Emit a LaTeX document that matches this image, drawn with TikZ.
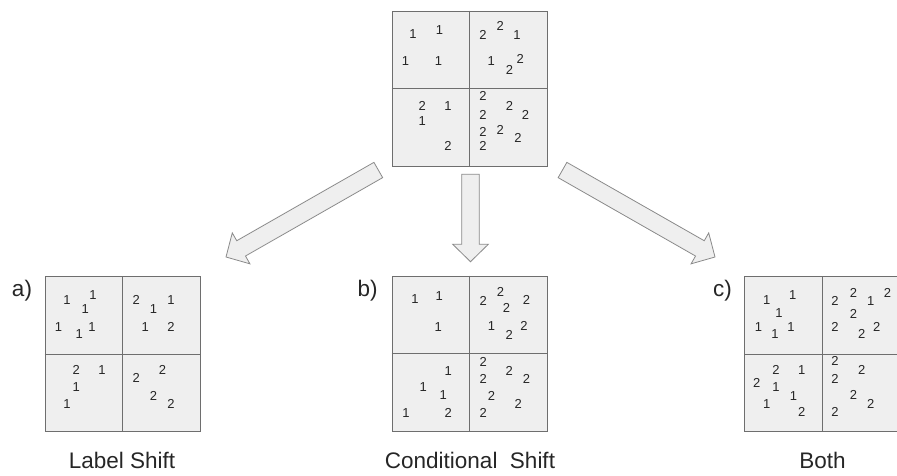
\documentclass[tikz,border=0pt]{standalone}
\usepackage{fontspec}
\setmainfont{Liberation Sans}
\usetikzlibrary{calc}
\definecolor{boxgray}{HTML}{EFEFEF}
\definecolor{linegray}{HTML}{6E6E6E}
\definecolor{arrowgray}{HTML}{8A8A8A}
\definecolor{textgray}{HTML}{262626}

\newcommand\fatarrow[2]{%
  \coordinate (#2-base) at ($(#2)!17.4pt!(#1)$);
  \draw[blockarrow] ($(#1)!8.8pt!90:(#2)$) -- ($(#2-base)!8.8pt!90:(#2)$)
    -- ($(#2-base)!17.8pt!90:(#2)$) -- (#2) -- ($(#2-base)!17.8pt!-90:(#2)$)
    -- ($(#2-base)!8.8pt!-90:(#2)$) -- ($(#1)!8.8pt!-90:(#2)$) -- cycle;}

\begin{document}
\begin{tikzpicture}[x=1pt,y=-1pt]

%
% Styles
%
\tikzstyle{quadbox}    = [rectangle,draw=linegray,fill=boxgray,line width=0.8pt,minimum size=155pt,inner sep=0pt]
\tikzstyle{divider}    = [draw=linegray,line width=0.8pt]
\tikzstyle{digit}      = [inner sep=0pt,text=textgray,font=\fontsize{13}{15}\selectfont]
\tikzstyle{caption}    = [inner sep=0pt,text=textgray,font=\fontsize{22.5}{27}\selectfont]
\tikzstyle{blockarrow} = [draw=arrowgray,fill=boxgray,line width=0.8pt,line join=miter]

\useasboundingbox (0,0) rectangle (897,476);

\node[quadbox] (top)  at (469.5,88.5) {};
\node[quadbox] (boxa) at (122.5,354)  {};
\node[quadbox] (boxb) at (469.5,353.5) {};
\node[quadbox] (boxc) at (822,354)    {};

\foreach \b in {top,boxa,boxb,boxc} {
  \draw[divider] (\b.north) -- (\b.south);
  \draw[divider] (\b.west) -- (\b.east);
}

% top
\foreach \x/\y/\d [count=\i] in {21.3/23.3/1, 48/19.7/1, 14/50.7/1, 47/50.7/1,
    91.3/24/2, 108.7/15.7/2, 125.3/24/1, 99.7/50/1, 118/59/2, 128.7/48/2,
    30.7/95/2, 56.3/95/1, 30.7/110.7/1, 56.3/135.7/2,
    91.3/85/2, 91.3/104/2, 118/95/2, 134/104/2, 91.3/121.7/2, 108.7/119.7/2, 126.3/127.3/2, 91.3/135.7/2}
  \node[digit] (top-d\i) at ($(top.north west)+(\x,\y)$) {\d};

% a)
\foreach \x/\y/\d [count=\i] in {22.4/24.3/1, 48.4/19/1, 40.7/33.3/1, 14/50.6/1, 34.7/57.6/1, 47.4/50.6/1,
    91.7/24.3/2, 109/32.6/1, 126.4/24.3/1, 100.7/50.6/1, 126.4/50.6/2,
    31.7/94.3/2, 57.4/94.3/1, 31.7/111/1, 22.4/128.3/1,
    91.7/102.3/2, 118/94.3/2, 109/120/2, 126.4/128.3/2}
  \node[digit] (boxa-d\i) at ($(boxa.north west)+(\x,\y)$) {\d};

% b)
\foreach \x/\y/\d [count=\i] in {23.3/23.6/1, 47.6/20/1, 46.6/51.6/1,
    91.6/25.3/2, 109/16.6/2, 115/32/2, 135/24.3/2, 100/50.3/1, 117.6/59.3/2, 132.3/50.3/2,
    56.6/95.3/1, 31.6/111.6/1, 51.6/119.3/1, 14.3/137/1, 56.6/137/2,
    91.6/86/2, 91.6/103.6/2, 117.6/95.3/2, 135/103.6/2, 100/120.3/2, 126.6/128.6/2, 91.6/137/2}
  \node[digit] (boxb-d\i) at ($(boxb.north west)+(\x,\y)$) {\d};

% c)
\foreach \x/\y/\d [count=\i] in {22.7/24.3/1, 48.7/19/1, 35/36.6/1, 14.3/50.6/1, 31/58.3/1, 47/50.6/1,
    91/25/2, 109.3/16.6/2, 126.7/25/1, 143.3/16.6/2, 109.3/37.6/2, 91/50.6/2, 117.7/58.3/2, 132.7/50.6/2,
    32/94.3/2, 57.7/94.3/1, 12.7/106.6/2, 32/111/1, 49.3/120/1, 22.7/128.3/1, 57.7/136/2,
    91/85/2, 91/102.6/2, 117.7/94.3/2, 109.3/119.3/2, 126.7/128.3/2, 91/136/2}
  \node[digit] (boxc-d\i) at ($(boxc.north west)+(\x,\y)$) {\d};

\node[caption] (tag-a) at (22,291)   {a)};
\node[caption] (tag-b) at (367.5,291) {b)};
\node[caption] (tag-c) at (722.5,291) {c)};

\node[caption,anchor=base] (name-a) at ($(boxa.south)+(-0.5,37)$) {Label Shift};
\node[caption,anchor=base] (name-b) at ($(boxb.south)+(0.5,37)$)  {Conditional~~Shift};
\node[caption,anchor=base] (name-c) at ($(boxc.south)+(0.5,37)$)  {Both};

\coordinate (la-t) at (378.3,170);
\coordinate (la-h) at (226,257);
\coordinate (ca-t) at (470.5,174.3);
\coordinate (ca-h) at (470.5,261.7);
\coordinate (ra-t) at (562.5,170);
\coordinate (ra-h) at (715,257);

\fatarrow{la-t}{la-h}
\fatarrow{ca-t}{ca-h}
\fatarrow{ra-t}{ra-h}

\end{tikzpicture}
\end{document}
